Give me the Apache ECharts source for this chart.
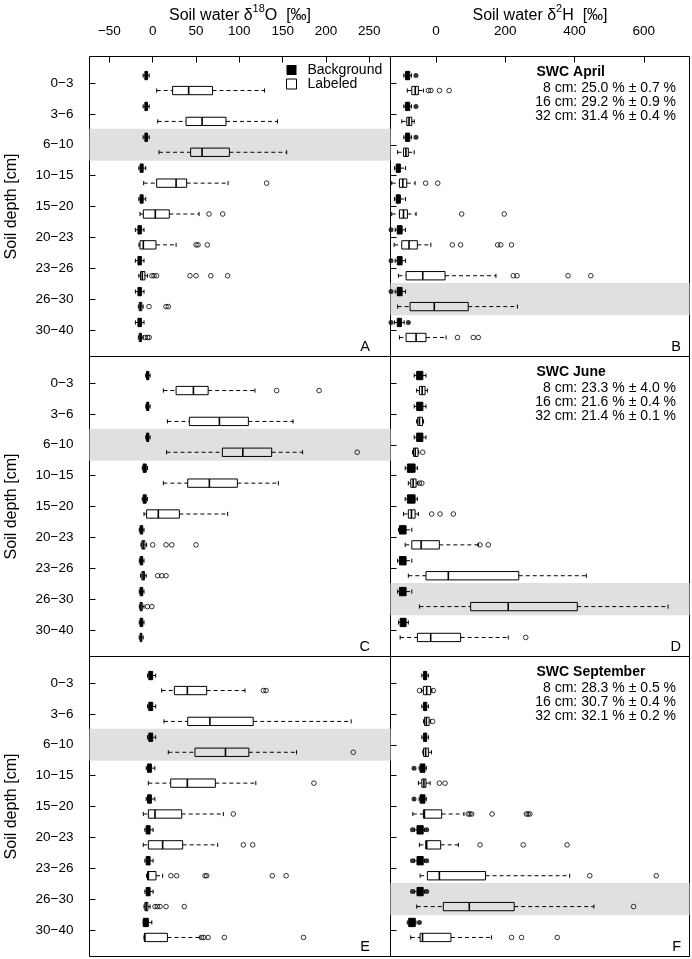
<!DOCTYPE html>
<html><head><meta charset="utf-8">
<script src="https://cdn.jsdelivr.net/npm/echarts@6/dist/echarts.min.js"></script>
<style>html,body{margin:0;padding:0;background:#fff}#c{width:692px;height:959px}</style>
</head><body><div id="c"></div>
<script>
// ---------- data ----------
const depths = ['0−3','3−6','6−10','10−15','15−20','20−23','23−26','26−30','30−40'];
const o18Ticks = [-50, 0, 50, 100, 150, 200, 250];
const h2Ticks = [0, 200, 400, 600];
const depthTicks = [1, 2, 3, 4, 5, 6, 7, 8, 9];

// each row: [min, q1, median, q3, max] per depth; outliers: [depthIndex, value]
// Panel A: δ18O, April
const aBackground = [[-11,-9,-7.5,-6,-4],[-11,-9,-7.5,-6,-4],[-11,-9,-7.5,-6,-4],[-16,-14.5,-13,-11,-8],[-16,-14.5,-13,-11,-8],[-20,-17,-15,-13,-10],[-20,-17,-15,-13,-10],[-20,-17,-15,-13,-10],[-20,-17,-15,-13,-10]];
const aLabeled = [[4.6,23,41.5,69,129],[5.8,38.5,57,84.6,144],[7.3,43.8,57,88.5,154.6],[-10.4,4.6,27,39.2,87],[-14.6,-10.8,3,19.2,53.5],[-15.8,-14.6,-10.8,3.8,27],[-16,-14,-12,-9,-6],[-16.5,-15.5,-14,-12.5,-11],[-16.5,-15.5,-14,-13,-11]];
const aBackgroundOutliers = [];
const aLabeledOutliers = [[3,131.5],[4,65],[4,80.8],[5,50],[5,52.3],[5,63],[6,-1],[6,1.5],[6,4.5],[6,43],[6,50],[6,67],[6,86.5],[7,-4.2],[7,15.4],[7,18],[8,-9],[8,-6],[8,-4]];

// Panel B: δ2H, April
const bBackground = [[-93,-88,-82,-76,-71],[-93,-88,-82,-76,-71],[-93,-88,-82,-76,-71],[-120,-115,-110,-103,-88],[-120,-115,-110,-103,-88],[-118,-112,-106,-98,-88],[-118,-112,-106,-98,-88],[-118,-112,-106,-98,-88],[-120,-112,-106,-100,-92]];
const bLabeled = [[-83,-70,-60,-51,-36.5],[-99,-84.5,-78,-70,-63],[-111,-94,-87,-80,-63],[-128,-105.7,-96,-84.5,-60.5],[-128,-105.7,-94,-82.6,-57.6],[-121,-99,-78,-54,-15],[-108.5,-86.5,-38.4,26,173],[-111,-75,-5,93,235],[-105.7,-86.5,-57.6,-29,29]];
const bBackgroundOutliers = [[0,-58],[1,-58],[2,-58],[5,-130],[6,-130],[7,-130],[8,-130],[8,-80]];
const bLabeledOutliers = [[0,-22],[0,-15],[0,10],[0,38],[3,-30],[3,5],[4,74],[4,197],[5,47],[5,71],[5,178],[5,187],[5,218],[6,223],[6,234],[6,381],[6,447],[8,62],[8,107.6],[8,122]];

// Panel C: δ18O, June
const cBackground = [[-8,-7,-5.5,-4.5,-3],[-8,-7,-5.5,-4.5,-3],[-8,-7,-5.5,-4.5,-3],[-12,-11,-9,-7.5,-6],[-12,-11,-9,-7.5,-6],[-15.5,-14.5,-13,-11.5,-10],[-15.5,-14.5,-13,-11.5,-10],[-15.5,-14.5,-13,-11.5,-10],[-15.5,-14.5,-13,-11.5,-10]];
const cLabeled = [[12.3,27,47,64,118],[17,42.3,77,110.4,162],[16,80.4,104,137.3,173],[12.3,40.4,65.4,97.7,145],[-10,-7,6.5,30.8,86.5],[-13.5,-12.5,-11,-9,-7],[-14,-12.5,-11,-9.5,-7.5],[-15.4,-14.5,-13.5,-12,-10],[-15.5,-14.5,-13.5,-12.5,-11]];
const cBackgroundOutliers = [];
const cLabeledOutliers = [[0,143],[0,192],[2,236],[5,0],[5,15.4],[5,22],[5,50],[6,5.8],[6,10.4],[6,15.4],[7,-6],[7,-1]];

// Panel D: δ2H, June
const dBackground = [[-63,-56,-47,-38,-29],[-63,-56,-47,-38,-29],[-63,-56,-47,-38,-29],[-89,-82.6,-72,-60.5,-54],[-89,-82.6,-72,-60.5,-54],[-108.5,-105.7,-96,-86.5,-70],[-111,-105.7,-96,-86.5,-70],[-111,-105.7,-96,-86.5,-70],[-108.5,-103.7,-96,-86.5,-80]];
const dLabeled = [[-56,-48,-40,-31.7,-25],[-56,-53,-48,-39,-36],[-68,-65,-60,-52,-50],[-80,-73,-66,-57.6,-52],[-94,-80,-71,-60.5,-51],[-89,-70,-43,9.6,122],[-80,-29,35.5,239,434],[-48,100,208.5,408,670],[-103.7,-53.8,-15.4,71,208.5]];
const dBackgroundOutliers = [];
const dLabeledOutliers = [[2,-38.5],[3,-48],[3,-41],[4,-12.5],[4,11.5],[4,50],[5,127],[5,151],[8,259]];

// Panel E: δ18O, September
const eBackground = [[-6,-4.5,-2.5,0,3.5],[-6,-4.5,-2.5,0,3.5],[-6,-4.5,-2.5,0,3.5],[-7.5,-6,-4,-1.5,2.5],[-7.5,-6,-4,-1.5,2.5],[-9,-7.5,-5.5,-3,0.5],[-9,-7.5,-5.5,-3,0.5],[-9,-7.5,-5.5,-3,0.5],[-11,-10.8,-8.5,-5,-1]];
const eLabeled = [[10.4,25,40,62.3,106.5],[13,40.4,66,116,229],[18,48.8,84,111,166],[-5,20.8,40,72.3,119],[-10.8,-5,2.7,33.5,81.5],[-10.8,-5,11.5,34.6,75],[-7,-6,-5,3.8,11.5],[-10,-9,-7.5,-5.5,-3],[-10,-9.6,-9,17,54.6]];
const eBackgroundOutliers = [];
const eLabeledOutliers = [[0,127.7],[0,130.8],[2,231.5],[3,186],[4,93],[5,104.6],[5,115.4],[6,21],[6,27.7],[6,60.4],[6,62.3],[6,138],[6,154],[7,2.7],[7,5.4],[7,8.5],[7,15.4],[7,36.5],[8,56.5],[8,59],[8,64],[8,82.7],[8,174]];

// Panel F: δ2H, September
const fBackground = [[-41,-36,-32,-27,-22],[-41,-36,-32,-27,-22],[-41,-36,-32,-27,-22],[-49,-46,-40,-32,-28],[-49,-46,-40,-32,-28],[-62,-55,-46,-37,-33],[-62,-55,-46,-37,-33],[-62,-55,-46,-37,-33],[-83,-79,-70,-60,-58]];
const fLabeled = [[-42,-36.6,-27,-15.4,-12],[-36,-33,-28,-20,-16],[-38,-36,-30,-22,-13],[-51,-41,-35,-29,-17],[-67,-36.5,-33.6,16.3,80.7],[-48,-29.8,-27,13.4,64.4],[-46,-25,9.6,143,386],[-55.7,21,96,225.7,456],[-73,-46,-39,43,160]];
const fBackgroundOutliers = [[3,-63.5],[4,-63.5],[5,-68],[5,-27],[6,-68],[6,-27],[7,-68],[7,-27],[8,-48]];
const fLabeledOutliers = [[0,-48],[0,-7.7],[1,-9.6],[3,9.6],[3,26],[4,93],[4,98],[4,103],[4,162],[4,261],[4,266],[4,271],[5,127],[5,251.7],[5,378.5],[6,444],[6,636],[7,570.6],[8,218],[8,247],[8,350]];

const swcTitles = ['SWC April', 'SWC June', 'SWC September'];
const swcLines = [
  ['8 cm: 25.0 % ± 0.7 %', '16 cm: 29.2 % ± 0.9 %', '32 cm: 31.4 % ± 0.4 %'],
  ['8 cm: 23.3 % ± 4.0 %', '16 cm: 21.6 % ± 0.4 %', '32 cm: 21.4 % ± 0.1 %'],
  ['8 cm: 28.3 % ± 0.5 %', '16 cm: 30.7 % ± 0.4 %', '32 cm: 32.1 % ± 0.2 %']
];
const panelLetters = ['A','B','C','D','E','F'];

// ---------- layout / style ----------
const FONT = '"Liberation Sans", Arial, Helvetica, sans-serif';
const O18_RANGE = [-72.9, 274.4];
const H2_RANGE = [-131.5, 732];
const Y_RANGE = [0.14, 9.86];
const OFF = 0.243;   // half distance between Background and Labeled boxes (in depth units)
const BOXH = 0.27;   // box thickness (in depth units)
const SHADE_HALF = 0.52;

const panels = [
  {bg: aBackground, lab: aLabeled, bgOut: aBackgroundOutliers, labOut: aLabeledOutliers, col: 0, row: 0, shade: 2},
  {bg: bBackground, lab: bLabeled, bgOut: bBackgroundOutliers, labOut: bLabeledOutliers, col: 1, row: 0, shade: 7},
  {bg: cBackground, lab: cLabeled, bgOut: cBackgroundOutliers, labOut: cLabeledOutliers, col: 0, row: 1, shade: 2},
  {bg: dBackground, lab: dLabeled, bgOut: dBackgroundOutliers, labOut: dLabeledOutliers, col: 1, row: 1, shade: 7},
  {bg: eBackground, lab: eLabeled, bgOut: eBackgroundOutliers, labOut: eLabeledOutliers, col: 0, row: 2, shade: 2},
  {bg: fBackground, lab: fLabeled, bgOut: fBackgroundOutliers, labOut: fLabeledOutliers, col: 1, row: 2, shade: 7}
];

function panelRect(p) {
  return {left: p.col ? 390.5 : 89.5, top: 56.5 + p.row * 300, width: p.col ? 299 : 301, height: 300};
}

function makeRender(offset, filled) {
  return function (params, api) {
    const pos = api.value(0) + offset;
    const unit = Math.abs(api.size([0, 1])[1]);
    const h = BOXH * unit;
    const y = api.coord([api.value(2), pos])[1];
    const x = [1, 2, 3, 4, 5].map(i => api.coord([api.value(i), pos])[0]);
    const dash = {stroke: '#000', lineWidth: 1, lineDash: [4, 3], fill: null};
    const solid = {stroke: '#000', lineWidth: 1, fill: null};
    return {type: 'group', children: [
      {type: 'line', shape: {x1: x[0], y1: y, x2: x[1], y2: y}, style: dash},
      {type: 'line', shape: {x1: x[3], y1: y, x2: x[4], y2: y}, style: dash},
      {type: 'line', shape: {x1: x[0], y1: y - h / 4, x2: x[0], y2: y + h / 4}, style: solid},
      {type: 'line', shape: {x1: x[4], y1: y - h / 4, x2: x[4], y2: y + h / 4}, style: solid},
      {type: 'rect', shape: {x: x[1], y: y - h / 2, width: Math.max(x[3] - x[1], 0.5), height: h},
        style: {stroke: '#000', lineWidth: 1, fill: filled ? '#000' : 'rgba(0,0,0,0)'}},
      {type: 'line', shape: {x1: x[2], y1: y - h / 2, x2: x[2], y2: y + h / 2}, style: {stroke: '#000', lineWidth: 1.6}}
    ]};
  };
}

const grids = [], xAxes = [], yAxes = [], series = [], graphics = [];
const fmtNum = v => (v < 0 ? '−' + Math.abs(v) : String(v));

panels.forEach((p, g) => {
  const r = panelRect(p);
  grids.push(Object.assign({show: true, borderColor: '#000', borderWidth: 1, backgroundColor: 'transparent'}, r));
  const ticks = p.col ? h2Ticks : o18Ticks;
  const range = p.col ? H2_RANGE : O18_RANGE;
  const top = p.row === 0;
  xAxes.push({
    type: 'value', gridIndex: g, position: 'top', min: range[0], max: range[1],
    axisLine: {show: false, onZero: false}, splitLine: {show: false},
    axisTick: {show: top, inside: true, length: 6, customValues: ticks, lineStyle: {color: '#000', width: 1}},
    axisLabel: {show: top, customValues: ticks, margin: 18, fontSize: 13.5, color: '#000', fontFamily: FONT, formatter: fmtNum},
    name: top ? (p.col ? '{n|Soil water δ}{s|2}{n|H  [‰]}' : '{n|Soil water δ}{s|18}{n|O  [‰]}') : '',
    nameLocation: 'middle', nameGap: 32,
    nameTextStyle: {color: '#000', fontFamily: FONT, rich: {
      n: {fontSize: 16, lineHeight: 20, verticalAlign: 'bottom', color: '#000', fontFamily: FONT},
      s: {fontSize: 11, lineHeight: 11, verticalAlign: 'top', color: '#000', fontFamily: FONT}
    }}
  });
  yAxes.push({
    type: 'value', gridIndex: g, inverse: true, min: Y_RANGE[0], max: Y_RANGE[1],
    axisLine: {show: false, onZero: false}, splitLine: {show: false},
    axisTick: {show: true, inside: true, length: 6, customValues: depthTicks, lineStyle: {color: '#000', width: 1}},
    axisLabel: {show: p.col === 0, customValues: depthTicks, margin: 16, fontSize: 13.5, color: '#000', fontFamily: FONT,
      formatter: v => depths[Math.round(v) - 1]},
    name: p.col === 0 ? 'Soil depth [cm]' : '', nameLocation: 'middle', nameGap: 70, nameRotate: 90,
    nameTextStyle: {fontSize: 16, color: '#000', fontFamily: FONT}
  });
  const sp = p.shade + 1;
  series.push({
    type: 'scatter', name: 'shade', xAxisIndex: g, yAxisIndex: g, data: [], z: 1, silent: true,
    markArea: {silent: true, itemStyle: {color: '#e0e0e0'}, label: {show: false},
      data: [[{yAxis: sp - SHADE_HALF}, {yAxis: sp + SHADE_HALF}]]}
  });
  series.push({
    type: 'custom', name: 'Background', xAxisIndex: g, yAxisIndex: g, z: 2, silent: true,
    itemStyle: {color: '#000'},
    renderItem: makeRender(-OFF, true),
    encode: {x: [1, 2, 3, 4, 5], y: 0},
    data: p.bg.map((b, i) => [i + 1].concat(b))
  });
  series.push({
    type: 'custom', name: 'Labeled', xAxisIndex: g, yAxisIndex: g, z: 2, silent: true,
    itemStyle: {color: '#fff', borderColor: '#000'},
    renderItem: makeRender(OFF, false),
    encode: {x: [1, 2, 3, 4, 5], y: 0},
    data: p.lab.map((b, i) => [i + 1].concat(b))
  });
  series.push({
    type: 'scatter', name: 'Background outliers', xAxisIndex: g, yAxisIndex: g, z: 3, silent: true,
    symbol: 'circle', symbolSize: 5, itemStyle: {color: '#000'},
    data: p.bgOut.map(o => [o[1], o[0] + 1 - OFF])
  });
  series.push({
    type: 'scatter', name: 'Labeled outliers', xAxisIndex: g, yAxisIndex: g, z: 3, silent: true,
    symbol: 'circle', symbolSize: 4.6, itemStyle: {color: 'rgba(0,0,0,0)', borderColor: '#000', borderWidth: 1},
    data: p.labOut.map(o => [o[1], o[0] + 1 + OFF])
  });
  // panel letter
  graphics.push({type: 'text', x: p.col ? 681 : 370, y: r.top + 290, silent: true,
    style: {text: panelLetters[g], fontSize: 14.5, fontFamily: FONT, fill: '#000', textAlign: 'right', align: 'right', textVerticalAlign: 'middle', verticalAlign: 'middle'}});
  if (p.col === 1) {
    graphics.push({type: 'text', x: 536.5, y: r.top + 16, silent: true,
      style: {text: swcTitles[p.row], fontSize: 14, fontWeight: 'bold', fontFamily: FONT, fill: '#000', textAlign: 'left', align: 'left', textVerticalAlign: 'middle', verticalAlign: 'middle'}});
    swcLines[p.row].forEach((t, k) => {
      graphics.push({type: 'text', x: 676, y: r.top + 31.8 + k * 13.8, silent: true,
        style: {text: t, fontSize: 14, fontFamily: FONT, fill: '#000', textAlign: 'right', align: 'right', textVerticalAlign: 'middle', verticalAlign: 'middle'}});
    });
  }
});

const chart = echarts.init(document.getElementById('c'), null, {renderer: 'canvas'});
chart.setOption({
  animation: false,
  backgroundColor: '#fff',
  textStyle: {fontFamily: FONT},
  grid: grids, xAxis: xAxes, yAxis: yAxes, series: series,
  legend: {
    orient: 'vertical', left: 286, top: 63, padding: 0, itemGap: 0, itemWidth: 10, itemHeight: 10,
    selectedMode: false,
    formatter: '{t|{name}}',
    textStyle: {color: '#000', fontSize: 14, fontFamily: FONT, rich: {t: {padding: [0, 0, 0, 6], fontSize: 14, lineHeight: 16, color: '#000', fontFamily: FONT}}},
    data: [
      {name: 'Background', icon: 'rect', itemStyle: {color: '#000', borderWidth: 0}},
      {name: 'Labeled', icon: 'rect', itemStyle: {color: '#fff', borderColor: '#000', borderWidth: 1}}
    ]
  },
  graphic: graphics
});
</script></body></html>
